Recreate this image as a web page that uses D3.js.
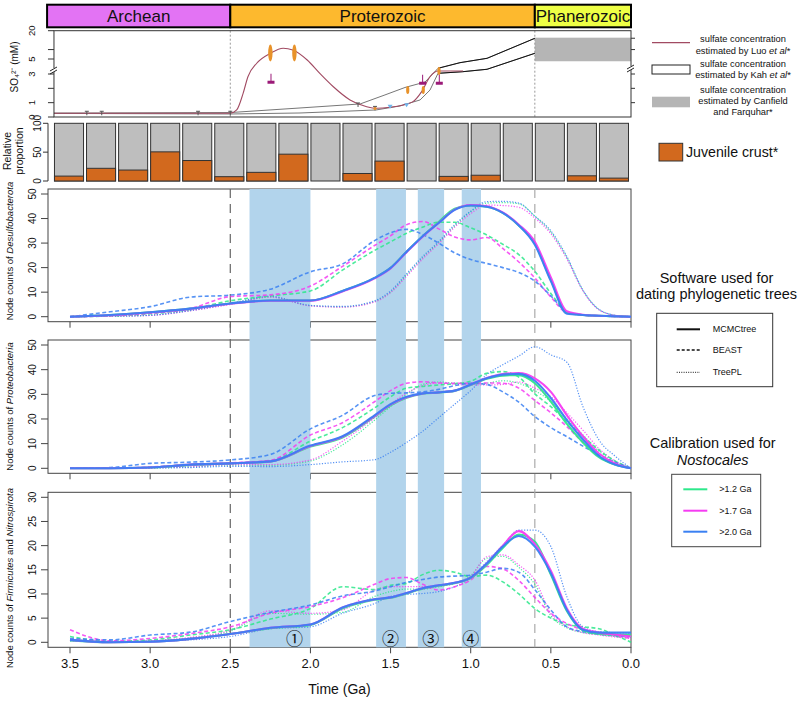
<!DOCTYPE html>
<html><head><meta charset="utf-8">
<script src="https://cdn.jsdelivr.net/npm/d3@7"></script>
<style>body{margin:0;background:#fff} text{font-family:"Liberation Sans",Arial,sans-serif;fill:#111}</style>
</head><body><svg id="c" width="800" height="701"></svg>
<script>
// ---------- DATA ----------
const eonNames = ["Archean","Proterozoic","Phanerozoic"];
const eonStart = [3.643, 2.5, 0.6];
const eonEnd = [2.5, 0.6, 0];
const eonColors = ["#E373F4","#FDB92E","#EEFF45"];

// sulfate (mM)
const luoT = [3.6,2.5,2.46,2.42,2.39,2.335,2.25,2.17,2.11,2.02,1.94,1.857,1.753,1.649,1.586,1.503,1.422,1.36,1.306,1.254,1.204,1.048];
const luoV = [0.26,0.26,0.49,1.65,2.81,4.43,8.0,10.7,9.8,4.87,3.05,2.11,1.19,0.72,0.61,0.68,0.84,1.07,1.77,2.81,3.4,3.4];
const kahUpT = [3.6,2.5,2.065,1.69,1.535,1.41,1.285,1.204,1.067,0.898,0.6];
const kahUpV = [0.27,0.31,0.63,0.91,1.54,2.06,2.44,3.76,4.51,5.37,15.97];
const kahLoT = [3.6,2.5,2.065,1.591,1.441,1.316,1.254,1.204,1.048,0.898,0.6];
const kahLoV = [0.25,0.21,0.28,0.49,0.77,1.19,1.88,3.09,3.31,3.63,8.02];
const canfieldT = [0.6, 0];
const canfieldV = [4.7, 16.3];
const orangeT = [2.25,2.1,1.393,1.296,1.198,1.597];
const orangeV = [8.2,8.2,1.88,1.88,3.4,0.6];
const orangeBig = [1,1,0,0,0,0];
const purpleT = [2.246,1.3,1.196];
const purpleV = [2.46,2.39,2.39];
const triT = [1.503,1.4];
const triV = [0.72,0.82];
const grayTickT = [3.395,3.302,2.701,2.5,1.703,1.597];
const grayTickV = [0.26,0.26,0.26,0.26,0.84,0.6];

// juvenile crust (%), 200 Myr bins from 3.6 Ga
const binStart = [3.6,3.4,3.2,3.0,2.8,2.6,2.4,2.2,2.0,1.8,1.6,1.4,1.2,1.0,0.8,0.6,0.4,0.2];
const juvenile = [8.5,22,19,50.5,35.5,7.5,15,46.5,0,13,34.5,0,8,10,0,0,9,5];

// node count curves
const times = [3.5,3.25,3.0,2.75,2.5,2.25,2.0,1.8,1.6,1.5,1.4,1.3,1.2,1.1,1.0,0.9,0.8,0.7,0.6,0.5,0.4,0.3,0.2,0.1,0.0];

const desulfo_MCMC_g = [0,0.7,1.8,3.3,5.4,6.6,6.6,10.5,15.8,19.9,26.5,32.8,38.6,44,45.3,44.8,42.3,37.2,29.8,15,1.6,0.7,0.4,0.2,0];
const desulfo_MCMC_m = [0,0.6,1.7,3.2,5.3,6.5,6.5,10.3,15.6,19.7,26.3,32.6,38.2,43.6,45.5,45,42.5,37.5,30.5,16,2.2,0.8,0.4,0.2,0];
const desulfo_MCMC_b = [0,0.7,1.8,3.3,5.4,6.6,6.6,10.5,15.8,19.9,26.5,32.8,38.2,43.5,45.3,44.8,42.3,37.2,29.3,14.5,1.2,0.7,0.4,0.2,0];
const desulfo_BEAST_g = [0,0.3,1.2,3,6.5,8.5,10.5,19,27,30.5,34,36.5,38.5,38.5,36.2,33.3,29.5,25.3,18.5,9.5,2,0.7,0.3,0.1,0];
const desulfo_BEAST_m = [0,0.4,1.4,3.3,8.2,8.9,12.5,20.5,29,33,37.5,38.8,35.8,32.5,31.3,32.3,27.8,22.3,15.8,8,1.6,0.6,0.3,0.1,0];
const desulfo_BEAST_b = [0,2,4.1,8,8.8,11.2,18.3,21.5,31,34.2,35.6,33.5,30,26,23.3,21.7,20,18,14.5,8.5,2,0.7,0.3,0.1,0];
const desulfo_TreePL_g = [0,0.2,0.6,2.6,5.2,8,4.5,4,6.2,10,17,24,30.2,37,42.8,46.3,46.5,46,41,34.5,24,10.7,2.9,0.6,0];
const desulfo_TreePL_m = [0,0.2,0.5,2.4,5,8,4.4,3.9,6,9.8,16.5,23.5,29.8,36.5,42,45.5,45.3,44.6,40.2,33.8,23.5,10.5,2.8,0.6,0];
const desulfo_TreePL_b = [0,0.2,0.6,2.5,5.4,8.3,4.6,4.2,6.5,10.5,17.5,24.5,30.6,37.5,43,46.9,47,46.3,41,35,24.5,10.9,3,0.6,0];

const proteo_MCMC_g = [0,0,0.3,1.4,2,2.7,8.8,12.5,21,25.5,28.6,30.2,30.7,31.4,33.8,36.3,37.6,37.8,34.5,27,18,10.5,4.5,1.5,0];
const proteo_MCMC_m = [0,0,0.3,1.5,2,2.8,9,12.8,21.2,25.8,28.8,30.3,30.8,31.5,34,36.6,38.2,38.6,36.5,31,21.5,13,6,2,0];
const proteo_MCMC_b = [0,0,0.3,1.5,2,2.8,9.2,13,21.5,26,29,30.4,30.8,31.5,34,36.5,38,38.3,35.5,28.5,19.5,11.7,5,1.5,0];
const proteo_BEAST_g = [0,0,0.3,1.2,2,3,11,16.5,24.5,29,32.5,33.2,33.8,34.3,35.3,38.5,39.2,37,30.2,25,18.9,13,7.4,3,0];
const proteo_BEAST_m = [0,0,0.5,1.5,2.2,3.2,13.5,18.5,27,31.5,34.5,35.1,34.6,34.5,34.5,34.6,34.5,32.5,27.5,22.5,16.9,10.5,4.7,1.5,0];
const proteo_BEAST_b = [0,0.3,2,2.5,3.4,5.6,16,21.5,29.5,30.4,30.6,31,32,33.5,34.5,34,31,26.8,21,16.5,12.8,9,5.4,2.5,0];
const proteo_TreePL_g = [0,0,0.2,0.5,1.3,1.2,3,9.5,19.5,25,30,34,35,34.5,34.2,34.5,35.5,34.5,31.5,27,20,13.5,7,2.5,0];
const proteo_TreePL_m = [0,0,0.2,0.6,1.5,1.5,3.4,11,20.5,26,30.5,33.5,34.6,34,33.8,33.8,34,35,32.5,29,22.5,15.5,8,3,0];
const proteo_TreePL_b = [0,0,0.1,0.3,0.8,0.7,1.5,2.6,3.5,6.5,10.5,15,20.5,26,31.5,38,42,45.5,49.3,46,43,25,11.5,5,0];

const firm_MCMC_g = [0.4,0,0.1,0.7,1.7,2.9,3.6,7,8.8,9.2,10.1,11.1,11.7,12.2,13.3,16,19.5,22.3,20.8,14,6.5,2.5,1.8,1.6,1.5];
const firm_MCMC_m = [0.5,0,0.1,0.7,1.7,3,3.7,7.2,8.9,9.3,10.2,11.2,11.8,12.3,13.4,16.3,20,23,20.3,14.8,7,2.8,2,1.6,1.2];
const firm_MCMC_b = [0.5,0,0.1,0.7,1.7,3,3.7,7.2,8.9,9.3,10.2,11.2,11.8,12.3,13.4,16.3,19.8,22,19.8,14.3,6.7,2.6,2,2,2];
const firm_BEAST_g = [1.2,0.2,0.5,1.5,2.6,4.8,7,11.5,10.9,11.8,12.2,14,14.9,14.5,13.6,13.9,12.5,10,7,5,3.7,3.2,2.8,1.5,0];
const firm_BEAST_m = [2.6,0.3,0.8,1.8,3.2,6,7.4,9.2,12,13.2,13.4,12,10.8,11.5,12.9,15.7,15.2,12.8,9.3,6,3.9,2.6,2.1,1.4,0.8];
const firm_BEAST_b = [0.8,0.5,1.5,2.1,4.3,6.2,7.7,9.6,10.6,11.5,12.4,13,13.5,13.7,13.9,14.5,15.3,14.5,10.9,6.7,3.2,2.2,1.7,1.4,1.2];
const firm_TreePL_g = [0.6,0.1,0.3,0.9,2.3,6,5.8,6.2,9.5,10.5,11,11,11.5,12.2,13.8,17.4,17.8,15.5,12,5.5,3,2,1.6,1.2,1];
const firm_TreePL_m = [0.5,0.1,0.3,1,2.5,6.5,6,6.7,10.8,11.5,11.5,11.5,11.8,12.2,13.6,17.7,18.1,16,12.9,6,3.2,2,1.5,1.1,0.8];
const firm_TreePL_b = [0.3,0.1,0.2,0.5,1.2,2.8,3.2,6,8,9.5,9.9,10.1,10.5,11.5,13.3,16.7,20,23.2,23.2,19.8,9.4,3.2,2.2,2,1.9];

const bandStart = [2.38,1.59,1.33,1.056];
const bandEnd = [2.0,1.404,1.166,0.936];
const bandLabels = ["①","②","③","④"];
const bandLabelT = [2.1,1.5,1.25,1.0];
const xTicks = [3.5,3.0,2.5,2.0,1.5,1.0,0.5,0.0];
const softwareNames = ["MCMCtree","BEAST","TreePL"];
const calibNames = [">1.2 Ga",">1.7 Ga",">2.0 Ga"];
const calibColors = ["#2DE88B","#F53CF2","#3A80F2"];

// ---------- DRAW ----------
const svg = d3.select("#c");
const x = d3.scaleLinear().domain([3.5,0]).range([70,631]);

// Eon bar
const eg = svg.append("g");
eonNames.forEach((n,i)=>{
  eg.append("rect").attr("x",x(eonStart[i])).attr("y",4.7).attr("width",x(eonEnd[i])-x(eonStart[i])).attr("height",22.6)
    .attr("fill",eonColors[i]).attr("stroke","#000").attr("stroke-width",2);
  eg.append("text").attr("x",(x(eonStart[i])+x(eonEnd[i]))/2).attr("y",16).attr("dy","0.36em")
    .attr("text-anchor","middle").attr("font-size",17).text(n);
});

// Sulfate panel
const ySul = d3.scaleLinear().domain([0,3,5,20]).range([117,74,59,30.7]);
const sg = svg.append("g");
sg.append("rect").attr("x",x(canfieldT[0])).attr("y",ySul(canfieldV[1])).attr("width",x(canfieldT[1])-x(canfieldT[0]))
  .attr("height",ySul(canfieldV[0])-ySul(canfieldV[1])).attr("fill","#B5B5B5");
[2.5,0.6].forEach(t=>sg.append("line").attr("x1",x(t)).attr("x2",x(t)).attr("y1",30.7).attr("y2",117)
  .attr("stroke","#999").attr("stroke-dasharray","2,2"));
const sline = d3.line().x(d=>x(d[0])).y(d=>ySul(d[1]));
sg.append("path").attr("d",sline(kahUpT.map((t,i)=>[t,kahUpV[i]]))).attr("fill","none").attr("stroke","#777").attr("stroke-width",1);
sg.append("path").attr("d",sline(kahLoT.map((t,i)=>[t,kahLoV[i]]))).attr("fill","none").attr("stroke","#777").attr("stroke-width",1);
sg.append("path").attr("d",sline(kahUpT.slice(-4).map((t,i)=>[t,kahUpV.slice(-4)[i]]))).attr("fill","none").attr("stroke","#111").attr("stroke-width",1);
sg.append("path").attr("d",sline(kahLoT.slice(-4).map((t,i)=>[t,kahLoV.slice(-4)[i]]))).attr("fill","none").attr("stroke","#111").attr("stroke-width",1);
sg.append("path").attr("d",d3.line().x(d=>x(d[0])).y(d=>ySul(d[1])).curve(d3.curveMonotoneX)(luoT.map((t,i)=>[t,luoV[i]])))
  .attr("fill","none").attr("stroke","#A14A62").attr("stroke-width",1.1);
grayTickT.forEach((t,i)=>{
  sg.append("line").attr("x1",x(t)).attr("x2",x(t)).attr("y1",ySul(grayTickV[i])-2).attr("y2",ySul(grayTickV[i])+2).attr("stroke","#555");
  sg.append("line").attr("x1",x(t)-2).attr("x2",x(t)+2).attr("y1",ySul(grayTickV[i])-2).attr("y2",ySul(grayTickV[i])-2).attr("stroke","#555");
});
triT.forEach((t,i)=>{
  const cx=x(t), cy=ySul(triV[i]);
  sg.append("path").attr("d",`M${cx-2.5},${cy-2}L${cx+2.5},${cy-2}L${cx},${cy+2}Z`).attr("fill","#6FB4EA");
});
orangeT.forEach((t,i)=>{
  sg.append("ellipse").attr("cx",x(t)).attr("cy",ySul(orangeV[i])).attr("rx",orangeBig[i]?2.2:1.6).attr("ry",orangeBig[i]?8.5:(i===5?1.5:4))
    .attr("fill","#E8922A");
});
purpleT.forEach((t,i)=>{
  const cx=x(t), cy=ySul(purpleV[i]);
  sg.append("line").attr("x1",cx).attr("x2",cx).attr("y1",cy-8).attr("y2",cy).attr("stroke","#9B1A78").attr("stroke-width",1);
  sg.append("rect").attr("x",cx-3.5).attr("y",cy-1).attr("width",7).attr("height",3).attr("fill","#9B1A78");
});
sg.append("rect").attr("x",x(3.6)).attr("y",30.7).attr("width",631-x(3.6)).attr("height",117-30.7)
  .attr("fill","none").attr("stroke","#333").attr("stroke-width",1);
[20,10,5,3,2,1,0].forEach(v=>{
  sg.append("line").attr("x1",x(3.6)-6).attr("x2",x(3.6)).attr("y1",ySul(v)).attr("y2",ySul(v)).attr("stroke","#333");
});
[20,5,3,1,0].forEach(v=>{
  sg.append("text").attr("transform",`translate(31.5,${ySul(v)}) rotate(-90)`).attr("dy","0.35em")
    .attr("text-anchor","middle").attr("font-size",9.5).text(v);
});
[16,10,3,2,1].forEach(v=>{
  sg.append("line").attr("x1",631).attr("x2",635).attr("y1",ySul(v)).attr("y2",ySul(v)).attr("stroke","#333");
});
[[x(3.6),70],[631,68]].forEach(([bx,by])=>{
  sg.append("rect").attr("x",bx-3).attr("y",by-2).attr("width",6).attr("height",4).attr("fill","#fff");
  sg.append("line").attr("x1",bx-4).attr("x2",bx+3).attr("y1",by+1).attr("y2",by-3).attr("stroke","#222");
  sg.append("line").attr("x1",bx-4).attr("x2",bx+3).attr("y1",by+4).attr("y2",by).attr("stroke","#222");
});
sg.append("text").attr("transform","translate(14,67) rotate(-90)").attr("dy","0.35em").attr("text-anchor","middle")
  .attr("font-size",10).text("SO₄²⁻ (mM)");

// Juvenile crust bars
const yBar = d3.scaleLinear().domain([0,100]).range([181,123.3]);
const bg = svg.append("g");
binStart.forEach((t,i)=>{
  const bx = x(t)+0.5, bw = x(t-0.2)-x(t)-3;
  bg.append("rect").attr("x",bx).attr("y",yBar(100)).attr("width",bw).attr("height",yBar(0)-yBar(100))
    .attr("fill","#BEBEBE").attr("stroke","#333").attr("stroke-width",1);
  if (juvenile[i]>0) bg.append("rect").attr("x",bx).attr("y",yBar(juvenile[i])).attr("width",bw).attr("height",yBar(0)-yBar(juvenile[i]))
    .attr("fill","#D2691E").attr("stroke","#333").attr("stroke-width",1);
});
bg.append("line").attr("x1",48).attr("x2",48).attr("y1",yBar(0)).attr("y2",yBar(100)).attr("stroke","#333");
[0,50,100].forEach(v=>{
  bg.append("line").attr("x1",43).attr("x2",48).attr("y1",yBar(v)).attr("y2",yBar(v)).attr("stroke","#333");
  bg.append("text").attr("transform",`translate(37.5,${yBar(v)}) rotate(-90)`).attr("dy","0.35em")
    .attr("text-anchor","middle").attr("font-size",10).text(v);
});
bg.append("text").attr("transform","translate(7,151) rotate(-90)").attr("dy","0.35em").attr("text-anchor","middle").attr("font-size",10.5).text("Relative");
bg.append("text").attr("transform","translate(19,151) rotate(-90)").attr("dy","0.35em").attr("text-anchor","middle").attr("font-size",10.5).text("proportion");

// Main panels
const panels = [
  {top:189,bottom:321.7,dom:[0,50],rng:[316.7,194],ticks:[0,10,20,30,40,50],labelY:251,
   label:[["Node counts of ",false],["Desulfobacterota",true]],
   series:[[desulfo_MCMC_g,desulfo_MCMC_m,desulfo_MCMC_b],[desulfo_BEAST_g,desulfo_BEAST_m,desulfo_BEAST_b],[desulfo_TreePL_g,desulfo_TreePL_m,desulfo_TreePL_b]]},
  {top:340,bottom:473.3,dom:[0,50],rng:[468.3,345],ticks:[0,10,20,30,40,50],labelY:406.5,
   label:[["Node counts of ",false],["Proteobacteria",true]],
   series:[[proteo_MCMC_g,proteo_MCMC_m,proteo_MCMC_b],[proteo_BEAST_g,proteo_BEAST_m,proteo_BEAST_b],[proteo_TreePL_g,proteo_TreePL_m,proteo_TreePL_b]]},
  {top:492.3,bottom:647.3,dom:[0,30],rng:[642.3,497.3],ticks:[0,5,10,15,20,25,30],labelY:578,
   label:[["Node counts of ",false],["Firmicutes",true],[" and ",false],["Nitrospirota",true]],
   series:[[firm_MCMC_g,firm_MCMC_m,firm_MCMC_b],[firm_BEAST_g,firm_BEAST_m,firm_BEAST_b],[firm_TreePL_g,firm_TreePL_m,firm_TreePL_b]]}
];
const styleSW = [
  {w:2.1,dash:null,op:0.95},
  {w:1.6,dash:"4,2.5",op:0.85},
  {w:1.2,dash:"1.2,1.6",op:0.85}
];
const mg = svg.append("g");
panels.forEach((p,pi)=>{
  const y = d3.scaleLinear().domain(p.dom).range(p.rng);
  p.y = y;
  mg.append("rect").attr("x",48).attr("y",p.top).attr("width",631-48).attr("height",p.bottom-p.top)
    .attr("fill","none").attr("stroke","#444").attr("stroke-width",1);
  p.ticks.forEach(v=>{
    mg.append("line").attr("x1",41).attr("x2",48).attr("y1",y(v)).attr("y2",y(v)).attr("stroke","#444");
    mg.append("text").attr("transform",`translate(32.7,${y(v)}) rotate(-90)`).attr("dy","0.35em")
      .attr("text-anchor","middle").attr("font-size",10).text(v);
  });
  xTicks.forEach(t=>{
    mg.append("line").attr("x1",x(t)).attr("x2",x(t)).attr("y1",p.bottom).attr("y2",p.bottom+6).attr("stroke","#444");
    if (pi===2) mg.append("text").attr("x",x(t)).attr("y",668).attr("text-anchor","middle").attr("font-size",13).text(t.toFixed(1));
  });
  const lt = mg.append("text").attr("transform",`translate(9.5,${p.labelY}) rotate(-90)`).attr("dy","0.35em")
    .attr("text-anchor","middle").attr("font-size",9.5);
  p.label.forEach(([s,it])=>lt.append("tspan").attr("font-style",it?"italic":"normal").text(s));
});
bandStart.forEach((t,i)=>{
  mg.append("rect").attr("x",x(t)).attr("y",189).attr("width",x(bandEnd[i])-x(t)).attr("height",647.3-189)
    .attr("fill","#B2D4EC");
});
mg.append("line").attr("x1",x(2.5)).attr("x2",x(2.5)).attr("y1",189).attr("y2",647.3).attr("stroke","#666").attr("stroke-width",1.2).attr("stroke-dasharray","9,6");
mg.append("line").attr("x1",x(0.6)).attr("x2",x(0.6)).attr("y1",189).attr("y2",647.3).attr("stroke","#AAA").attr("stroke-width",1.2).attr("stroke-dasharray","9,6");
panels.forEach(p=>{
  const line = d3.line().x((d,i)=>x(times[i])).y(d=>p.y(d)).curve(d3.curveMonotoneX);
  [2,1,0].forEach(si=>{
    p.series[si].forEach((vals,ci)=>{
      const st = styleSW[si];
      mg.append("path").attr("d",line(vals)).attr("fill","none").attr("stroke",calibColors[ci])
        .attr("stroke-width",st.w).attr("stroke-dasharray",st.dash).attr("stroke-opacity",st.op);
    });
  });
});
bandLabels.forEach((s,i)=>{
  mg.append("text").attr("x",x(bandLabelT[i])).attr("y",639).attr("dy","0.36em").attr("text-anchor","middle")
    .attr("font-size",17).style("font-family","'DejaVu Serif','Noto Sans CJK JP',serif").attr("fill","#333").text(s);
});
mg.append("text").attr("x",339.5).attr("y",694).attr("text-anchor","middle").attr("font-size",14).text("Time (Ga)");

// ---------- LEGENDS ----------
const lg = svg.append("g");
const ltxt = (xx,yy,parts,fs)=>{const t=lg.append("text").attr("x",xx).attr("y",yy).attr("dy","0.35em").attr("text-anchor","middle").attr("font-size",fs);
  parts.forEach(([s,it])=>t.append("tspan").attr("font-style",it?"italic":"normal").text(s)); return t;};
lg.append("line").attr("x1",652).attr("x2",690).attr("y1",42.7).attr("y2",42.7).attr("stroke","#A14A62").attr("stroke-width",1.3);
ltxt(743,38.3,[["sulfate concentration",false]],9.3);
ltxt(743,50.5,[["estimated by Luo ",false],["et al",true],["*",false]],9.3);
lg.append("rect").attr("x",652).attr("y",65).attr("width",38).attr("height",9).attr("fill","#fff").attr("stroke","#222");
ltxt(743,63.3,[["sulfate concentration",false]],9.3);
ltxt(743,74.7,[["estimated by Kah ",false],["et al",true],["*",false]],9.3);
lg.append("rect").attr("x",652).attr("y",96.7).attr("width",38).attr("height",10.6).attr("fill","#B5B5B5");
ltxt(743,89.3,[["sulfate concentration",false]],9.3);
ltxt(743,100.3,[["estimated by Canfield",false]],9.3);
ltxt(743,111.7,[["and Farquhar*",false]],9.3);

lg.append("rect").attr("x",659).attr("y",143.3).attr("width",23.7).attr("height",17.7).attr("fill","#D2691E").attr("stroke","#333");
lg.append("text").attr("x",686).attr("y",152.5).attr("dy","0.35em").attr("font-size",14.2).text("Juvenile crust*");

ltxt(716.5,278,[["Software used for",false]],14.5);
ltxt(716.5,293.5,[["dating phylogenetic trees",false]],14.5);
lg.append("rect").attr("x",656.7).attr("y",313.3).attr("width",116).attr("height",73.4).attr("fill","#fff").attr("stroke","#333");
[329.3,350,372.3].forEach((yy,i)=>{
  lg.append("line").attr("x1",676.7).attr("x2",700).attr("y1",yy).attr("y2",yy).attr("stroke","#111")
    .attr("stroke-width",i===0?2:(i===1?1.5:1)).attr("stroke-dasharray",i===0?null:(i===1?"3,2":"1,1.3"));
  lg.append("text").attr("x",712.7).attr("y",yy).attr("dy","0.35em").attr("font-size",9).text(softwareNames[i]);
});

ltxt(712.7,442.7,[["Calibration used for",false]],14.5);
ltxt(712.7,460,[["Nostocales",true]],14.5);
lg.append("rect").attr("x",671.7).attr("y",474.3).attr("width",89).attr("height",72.4).attr("fill","#fff").attr("stroke","#444");
[489.3,510.7,531.7].forEach((yy,i)=>{
  lg.append("line").attr("x1",683.3).attr("x2",707.3).attr("y1",yy).attr("y2",yy).attr("stroke",calibColors[i]).attr("stroke-width",2);
  lg.append("text").attr("x",719.3).attr("y",yy).attr("dy","0.35em").attr("font-size",9).text(calibNames[i]);
});
</script>
</body></html>
